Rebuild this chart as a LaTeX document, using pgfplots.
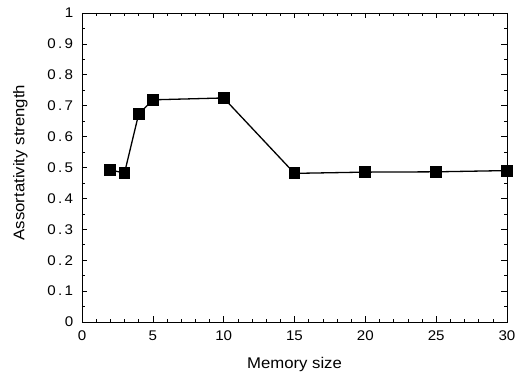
\documentclass[border=0pt]{standalone}
\usepackage{pgfplots}
\pgfplotsset{compat=1.18}
\usepackage{fontspec}
\setmainfont{Liberation Sans}[FakeStretch=1.08]
\newcommand\dt{\kern2.4pt.\kern2.4pt}
\begin{document}
\begin{tikzpicture}
\begin{axis}[
  scale only axis,
  width=425pt, height=309pt,
  xmin=0, xmax=30, ymin=0, ymax=1,
  xtick={0,5,...,30},
  ytick={0,0.1,0.2,0.3,0.4,0.5,0.6,0.7,0.8,0.9,1},
  yticklabels={0,0\dt1,0\dt2,0\dt3,0\dt4,0\dt5,0\dt6,0\dt7,0\dt8,0\dt9,1},
  minor x tick num=4,
  minor y tick num=1,
  tick align=inside,
  major tick length=5.5pt,
  minor tick length=3pt,
  tick style={black, line width=0.6pt},
  axis line style={line width=0.9pt},
  /pgf/number format/assume math mode=true,
  yticklabel style={xshift=-5.3pt},
  xticklabel style={yshift=-5pt},
  tick label style={font=\fontsize{14pt}{16pt}\selectfont},
  xlabel={Memory size},
  ylabel={Assortativity strength},
  xlabel style={at={(axis description cs:0.5,0)}, anchor=base, yshift=-46.5pt, font=\fontsize{15.5pt}{18pt}\selectfont},
  ylabel style={at={(axis description cs:0,0.516)}, anchor=base, yshift=57.5pt, font=\fontsize{15.5pt}{18pt}\selectfont},
]
\addplot[black, line width=1.3pt, mark=square*, mark size=5.3pt, mark options={solid}] coordinates {
(2,0.492) (3,0.482) (4,0.673) (5,0.719) (10,0.725) (15,0.481) (20,0.485) (25,0.486) (30,0.490)
};
\coordinate (sw) at (rel axis cs:0,0);
\coordinate (ne) at (rel axis cs:1,1);
\end{axis}
\pgfresetboundingbox
\path ([shift={(-82pt,-54pt)}]sw) rectangle ([shift={(10pt,13pt)}]ne);
\end{tikzpicture}
\end{document}
